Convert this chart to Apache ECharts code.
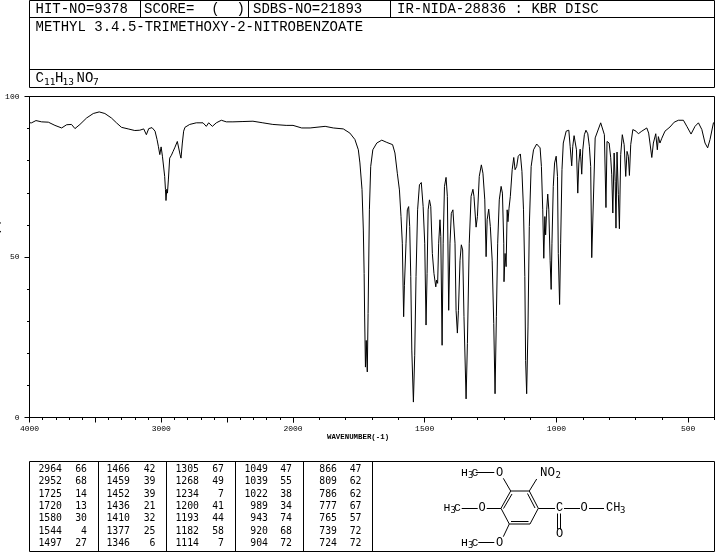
<!DOCTYPE html>
<html><head><meta charset="utf-8">
<style>html,body{margin:0;padding:0;background:#fff}#c{width:715px;height:553px}</style>
<script src="https://cdn.jsdelivr.net/npm/echarts@6/dist/echarts.min.js"></script>
</head><body><div id="c"></div>
<script>
const wavenumbers=[4000,3984,3951,3908,3857,3807,3756,3718,3681,3655,3617,3567,3516,3471,3428,3378,3340,3302,3251,3201,3163,3133,3113,3095,3070,3047,3032,3022,3011,3001,2991,2981,2974,2968,2964,2958,2953,2946,2936,2923,2910,2898,2878,2865,2857,2850,2840,2830,2820,2784,2734,2683,2658,2640,2612,2582,2544,2506,2456,2380,2304,2229,2153,2052,2000,
1967,1935,1878,1847,1809,1784,1765,1752,1746,1738,1733,1730,1728,1725,1722,1718,1715,1710,1705,1697,1682,1663,1644,1622,1613,1604,1596,1590,1585,1580,1577,1571,1566,1561,1557,1553,1549,1543,1538,1533,1527,1520,1513,1506,1500,1495,1491,1487,1482,1477,1471,1465,1458,1455,1451,1447,1442,1439,1434,1430,1425,1419,1414,1409,1404,1399,1393,1385,1381,1376,1372,1366,1361,1356,1351,1343,1338,1331,1324,1317,1313,1305,1300,1293,1285,1279,1272,1267,1263,1257,1251,1244,1238,1233,1228,1223,1217,1210,1205,1200,1199,1195,1191,1187,1184,1180,1175,1168,1162,1157,1151,1145,1137,1131,1125,1120,1117,1113,1108,1103,1096,1087,1075,1072,1062,1057,1052,1048,1044,1041,1037,1033,1029,1024,1020,1017,1012,1007,1001,996,993,988,984,979,974,963,953,948,942,938,933,928,924,919,915,910,908,904,900,894,888,881,875,870,866,853,832,818,812,808,800,794,790,786,781,777,774,770,765,761,756,750,743,737,732,727,723,718,710,698,689,676,657,650,645,638,632,623,617,613,607,600,588,569,553,537,518,505,489,474,461,448,436,426,417,404,400];
const transmittance=[91.8,91.8,92.5,92.1,92,91,90.2,91.2,91.3,90,91.3,93.3,94.7,95.2,94.7,93.3,91.8,90.4,89.9,89.4,89.5,89.9,88.1,90,90.3,89.2,86.6,84.5,81.9,84.3,81.4,80.8,75.1,71,67.6,71.1,69.9,74,80.8,81.7,82.9,84,86,86,81.9,80.8,85.5,89.2,90.4,91.3,91.8,91.8,90.7,91.8,90.7,91.8,92.6,92.1,92.1,92.2,92.3,91.8,91.3,91,91,
90.2,90.2,90.7,90.2,89.9,88.6,86.6,83.4,79.3,71,58.4,44.9,31.3,15.7,24,14.2,32.4,64.7,78.2,83.4,85.5,86.4,85.7,85,82.4,76.1,70.9,62.6,54.3,31.4,41.2,54.3,64.7,65.7,59.5,43.9,21,4.8,19.4,43.9,64.7,72.5,73.2,65.7,54.3,28.8,44.9,64.7,67.8,65.7,51.1,44.9,40.7,42.8,41.8,54.3,61.6,56.4,22.5,54.3,72,74.8,68.9,33.4,54.3,63.6,64.7,54.3,33.4,26.3,33.4,49,53.8,52.2,31.4,5.8,23,54.3,68.9,71.1,68.9,59.3,62.6,75.1,78.7,76.1,67.8,50.1,61.6,64.9,59.5,49,29.3,7.4,31.4,54.3,67.8,72,69.9,54.3,42.3,51.1,47,64.7,61,65.2,68.9,77.2,81,77.2,78.2,81.4,82.1,76.7,64.7,43.9,17.8,7.4,28.2,59.5,78.2,83.4,85.2,85.3,84,78.2,64.7,49.6,62.6,56.9,64.7,69.6,64.7,49,39.9,54.3,72,79.3,81.4,75.1,51.1,35.2,54.3,77.2,85.5,89.2,89.5,84.5,78.4,84.5,87.8,88.1,83.4,69.9,79.3,83.6,81.4,75.8,83.4,88.1,89.5,88.4,84.5,78.2,49.8,87.1,91.8,88.1,65.4,86,85.5,80.9,75.6,63.7,82.4,73.6,59,82.7,69.4,58.8,81.9,88.1,85,75.1,82.9,81.4,75.4,85,89.7,89.2,88.4,89.2,90.2,88.6,85.5,81,85.5,88.4,83.4,87.5,85.5,87,89.2,90.5,92,92.6,92.6,90.7,88.3,90.7,91.8,89.7,85.5,84,86.6,91.8,92];

const peakWavenumbers=[2964,2952,1725,1720,1580,1544,1497,1466,1459,1452,1436,1410,1377,1346,1305,1268,1234,1200,1193,1182,1114,1049,1039,1022,989,943,920,904,866,809,786,777,765,739,724];
const peakTransmittance=[66,68,14,13,30,4,27,42,39,39,21,32,25,6,67,49,7,41,44,58,7,47,55,38,34,74,68,72,47,62,62,67,57,72,72];

const headerHit="HIT-NO=9378", headerScore="SCORE=  (  )", headerSdbs="SDBS-NO=21893", headerIr="IR-NIDA-28836 : KBR DISC";
const compoundName="METHYL 3.4.5-TRIMETHOXY-2-NITROBENZOATE";
const leftTicksMajor=[4000,3500,3000,2500,2000], rightTicksMajor=[2000,1500,1000,500];
const rightTicksMinor=[1900,1800,1700,1600,1400,1300,1200,1100,900,800,700,600,400];
const xLabelsLeft=[4000,3000,2000], xLabelsRight=[1500,1000,500];

const MONO='"Liberation Mono"', TBL='"DejaVu Sans Mono"';
const g=[];
const line=(x1,y1,x2,y2)=>g.push({type:'line',silent:true,shape:{x1,y1,x2,y2},style:{stroke:'#000',lineWidth:1,fill:null}});
const text=(s,x,y,size,font,align,weight)=>g.push({type:'text',silent:true,style:{text:s,x,y,fill:'#000',align:align||'left',verticalAlign:'middle',font:(weight?weight+' ':'')+size+'px '+(font||MONO)}});
// header
[[29.5,0.5,714.5,0.5],[29.5,17.5,714.5,17.5],[29.5,69.5,714.5,69.5],[29.5,87.5,714.5,87.5],[29.5,0.5,29.5,87.5],[714.5,0.5,714.5,87.5],[140.5,0.5,140.5,17.5],[248.5,0.5,248.5,17.5],[390.5,0.5,390.5,17.5]].forEach(a=>line(...a));
text(headerHit,35.5,9,14);text(headerScore,144,9,14);text(headerSdbs,253,9,14);text(headerIr,397,9,14);
text(compoundName,35.5,27,14);
text("C",35.5,78.5,14);text("11",44,83,9.5,TBL);text("H",55,78.5,14);text("13",62.5,83,9.5,TBL);text("NO",76.5,78.5,14);text("7",93,83,9.5,TBL);
// frame
line(29.5,96.5,714.5,96.5);line(714.5,96.5,714.5,417.5);
// axis title
text("WAVENUMBER(-1)",327,437,7.4,MONO,'left','bold');
// table
[[29.5,461.5,714.5,461.5],[29.5,551.5,714.5,551.5],[29.5,461.5,29.5,551.5],[714.5,461.5,714.5,551.5],[98.5,461.5,98.5,551.5],[166.5,461.5,166.5,551.5],[235.5,461.5,235.5,551.5],[303.5,461.5,303.5,551.5],[372.5,461.5,372.5,551.5]].forEach(a=>line(...a));
const colW=[62,130,199,268,337], colV=[87,155.5,224,292,361.5];
peakWavenumbers.forEach((w,i)=>{const c=Math.floor(i/7),r=i%7,y=469.5+12.3*r;text(String(w),colW[c],y,9.8,TBL,'right');text(String(peakTransmittance[i]),colV[c],y,9.8,TBL,'right');});
// structure
[[510.7,491,529.3,491],[529.3,491,538.3,508.3],[538.3,508.3,530,524],[530,524,509.3,524],[509.3,524,501,508.3],[501,508.3,510.7,491],
 [512,494,503.5,508.5],[527.5,493.5,535,508],[511,521.5,528.5,521.5],
 [510.7,491,503.3,478.3],[529.3,491,536.7,479],[494.3,472.5,475.7,472.5],[501,508.5,486.7,508.5],[477.7,508.5,461.7,508.5],[509.3,524,503.3,536.7],[494.3,542.5,478.3,542.5],
 [538.3,508.5,555,508.5],[564,508.5,580,508.5],[589,508.5,604,508.5],[557.5,513.5,557.5,529.5],[560.5,513.5,560.5,529.5]].forEach(a=>line(...a));
text("H",461,472.5,11.5);text("3",468,475.5,9,TBL);text("C",471.5,472.5,11.5);text("O",496,472.5,12);
text("NO",540,472.5,12.5);text("2",555.5,475.5,9,TBL);
text("H",443.5,507.5,11.5);text("3",450.5,510.5,9,TBL);text("C",454,507.5,11.5);text("O",478.5,507.5,12);
text("H",461,542.5,11.5);text("3",468,545.5,9,TBL);text("C",471.5,542.5,11.5);text("O",496,542.5,12);
text("C",556,507.5,12);text("O",580.5,507.5,12);text("CH",606,507.5,12);text("3",620,510.5,9,TBL);text("O",556,534,12);

const seg=(f)=>wavenumbers.map((w,i)=>[w,transmittance[i]]).filter(p=>f(p[0]));
const base={axisLine:{show:true,lineStyle:{color:'#000',width:1}},axisTick:{lineStyle:{color:'#000',width:1}},splitLine:{show:false}};
const lbl={color:'#000',fontFamily:MONO,fontSize:8};
const option={animation:false,backgroundColor:'#fff',
 grid:[{left:29.5,top:96.5,width:263.5,height:321,outerBoundsMode:'none'},{left:293,top:96.5,width:421.5,height:321,outerBoundsMode:'none'}],
 xAxis:[
  {...base,type:'value',gridIndex:0,inverse:true,min:2000,max:4000,interval:500,position:'bottom',
   axisTick:{...base.axisTick,length:5},minorTick:{show:true,splitNumber:5,length:2.5,lineStyle:{color:'#000'}},
   axisLabel:{...lbl,margin:7,customValues:xLabelsLeft,formatter:v=>String(v)}},
  {...base,type:'value',gridIndex:1,inverse:true,min:400,max:2000,position:'bottom',
   axisTick:{...base.axisTick,length:5,customValues:rightTicksMajor},
   axisLabel:{...lbl,margin:7,customValues:xLabelsRight,formatter:v=>String(v)}},
  {...base,type:'value',gridIndex:1,inverse:true,min:400,max:2000,position:'bottom',
   axisTick:{...base.axisTick,length:2.5,customValues:rightTicksMinor},axisLabel:{show:false}}
 ],
 yAxis:[
  {...base,type:'value',gridIndex:0,min:0,max:100,interval:50,
   axisTick:{...base.axisTick,length:5},minorTick:{show:true,splitNumber:5,length:2.5,lineStyle:{color:'#000'}},
   axisLabel:{...lbl,margin:10},
   name:'TRANSMITTANCE(%)',nameLocation:'middle',nameGap:24,nameRotate:90,nameTextStyle:{color:'#000',fontFamily:MONO,fontSize:7.6,fontWeight:'bold'}},
  {type:'value',gridIndex:1,min:0,max:100,show:false}
 ],
 series:[
  {type:'line',xAxisIndex:0,yAxisIndex:0,data:seg(w=>w>=2000),symbol:'none',lineStyle:{color:'#000',width:1},silent:true},
  {type:'line',xAxisIndex:1,yAxisIndex:1,data:seg(w=>w<=2000),symbol:'none',lineStyle:{color:'#000',width:1},silent:true}
 ],
 graphic:{elements:g}
};
const chart=echarts.init(document.getElementById('c'),null,{renderer:'canvas',width:715,height:553});
chart.setOption(option);
</script></body></html>
